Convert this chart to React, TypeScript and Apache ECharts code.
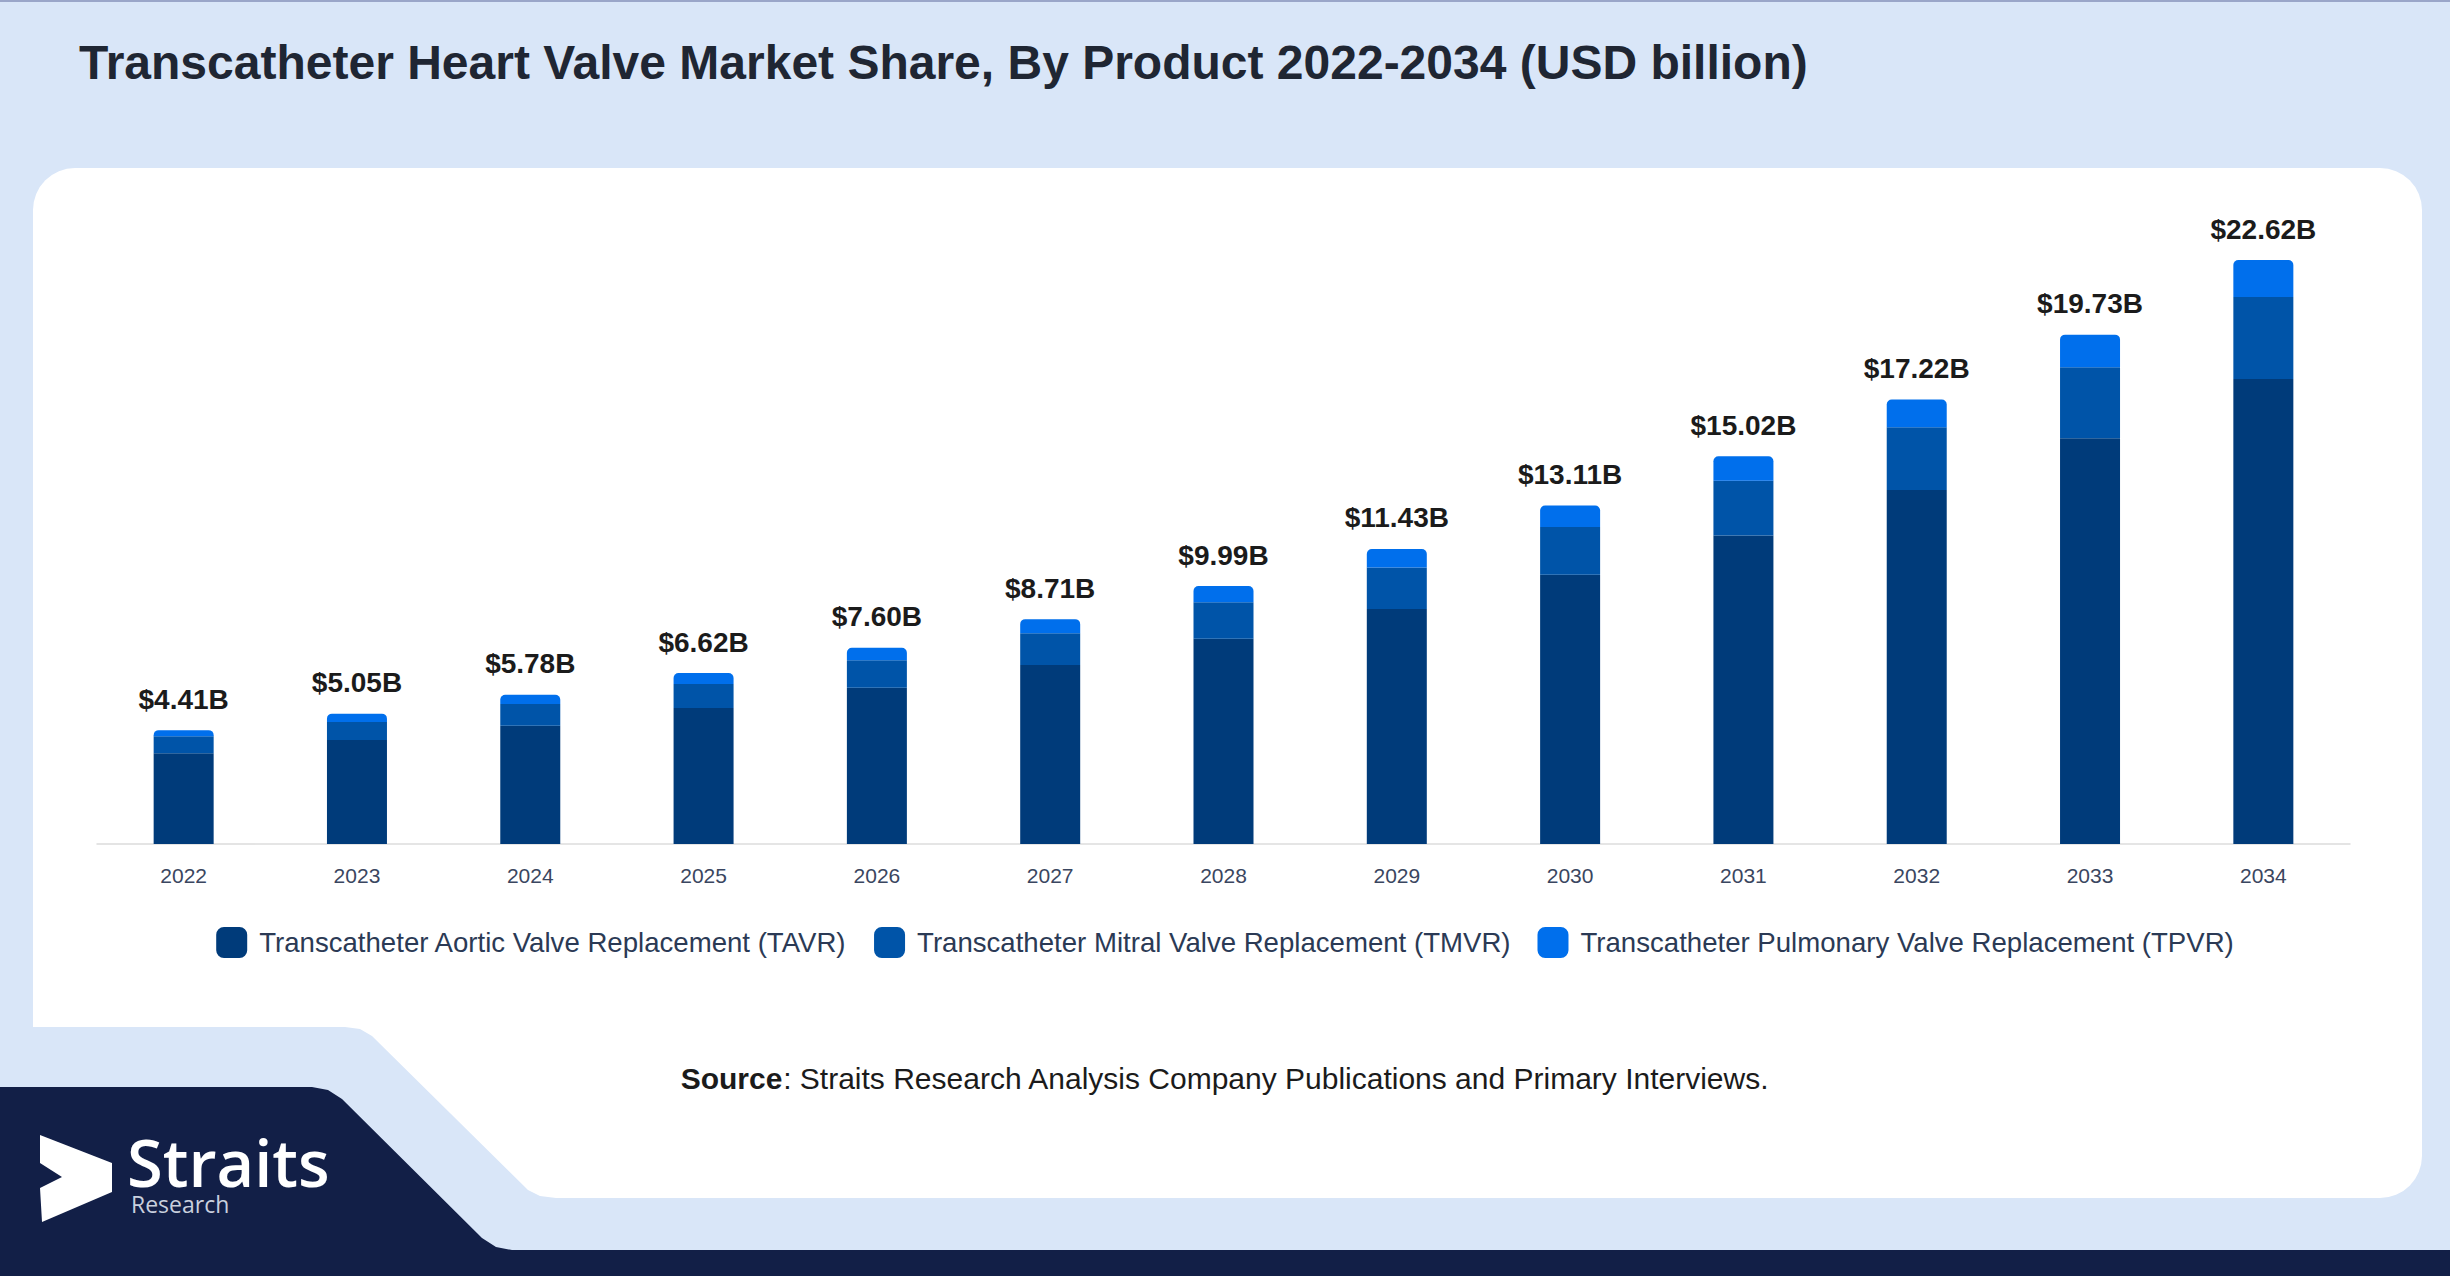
import React, { useEffect, useRef } from "react";
import * as echarts from "echarts";

const years = ["2022", "2023", "2024", "2025", "2026", "2027", "2028", "2029", "2030", "2031", "2032", "2033", "2034"];
const tavr = [3.52, 4.03, 4.58, 5.27, 6.05, 6.93, 7.95, 9.1, 10.43, 11.95, 13.71, 15.72, 18.01];
const tmvr = [0.65, 0.7, 0.84, 0.93, 1.07, 1.23, 1.41, 1.61, 1.85, 2.12, 2.43, 2.75, 3.18];
const tpvr = [0.24, 0.32, 0.36, 0.42, 0.48, 0.55, 0.63, 0.72, 0.83, 0.95, 1.08, 1.26, 1.43];
const totals = ["$4.41B", "$5.05B", "$5.78B", "$6.62B", "$7.60B", "$8.71B", "$9.99B", "$11.43B", "$13.11B", "$15.02B", "$17.22B", "$19.73B", "$22.62B"];
const seriesNames = [
  "Transcatheter Aortic Valve Replacement (TAVR)",
  "Transcatheter Mitral Valve Replacement (TMVR)",
  "Transcatheter Pulmonary Valve Replacement (TPVR)",
];
const colors = ["#003b7a", "#0054a8", "#006fec"];

const FONT = "'Liberation Sans', Arial, sans-serif";

export default function App() {
  const ref = useRef<HTMLDivElement>(null);
  useEffect(() => {
    document.body.style.margin = "0";
    const chart = echarts.init(ref.current!, null, { renderer: "svg" });
    const option: any = {
      animation: false,
      backgroundColor: "#d9e6f8",
      textStyle: { fontFamily: FONT },
      grid: { left: 97, right: 100, top: 198.6, bottom: 432, containLabel: false },
      xAxis: {
        type: "category",
        data: years,
        axisTick: { show: false },
        axisLine: { lineStyle: { color: "#dcdcdc", width: 1.5 } },
        axisLabel: { fontSize: 21, color: "#3a4660", margin: 21, fontFamily: FONT },
      },
      yAxis: { type: "value", min: 0, max: 25, show: false, splitLine: { show: false } },
      legend: {
        top: 922,
        left: "center",
        itemWidth: 31,
        itemHeight: 31,
        itemGap: 27,
        icon: "roundRect",
        data: seriesNames,
        textStyle: { fontSize: 27.6, color: "#2b3a55", fontFamily: FONT, padding: [0, 0, 0, 7] },
      },
      series: [
        {
          name: seriesNames[0],
          type: "bar",
          stack: "t",
          data: tavr,
          barWidth: 60,
          itemStyle: { color: colors[0] },
        },
        {
          name: seriesNames[1],
          type: "bar",
          stack: "t",
          data: tmvr,
          barWidth: 60,
          itemStyle: { color: colors[1] },
        },
        {
          name: seriesNames[2],
          type: "bar",
          stack: "t",
          data: tpvr,
          barWidth: 60,
          itemStyle: { color: colors[2], borderRadius: [5, 5, 0, 0] },
          label: {
            show: true,
            position: "top",
            distance: 17,
            fontSize: 28,
            fontWeight: "bold",
            color: "#1b1b1b",
            fontFamily: FONT,
            formatter: (p: any) => totals[p.dataIndex],
          },
        },
      ],
      graphic: [
        { type: "line", z: -10, shape: { x1: 0, y1: 1, x2: 2450, y2: 1 }, style: { stroke: "#9aa6c9", lineWidth: 2 } },
        {
          type: "rect",
          z: -10,
          shape: { x: 33, y: 168, width: 2389, height: 1030, r: 42 },
          style: { fill: "#ffffff" },
        },
        {
          type: "polygon",
          z: -9,
          shape: {
            points: [
              [0, 1027], [345, 1027], [360, 1029], [372, 1036], [528, 1190], [540, 1196], [556, 1198], [620, 1198], [620, 1276], [0, 1276],
            ],
          },
          style: { fill: "#d9e6f8" },
        },
        {
          type: "polygon",
          z: -8,
          shape: {
            points: [
              [0, 1087], [312, 1087], [328, 1090], [342, 1099], [482, 1238], [496, 1247], [512, 1250], [2450, 1250], [2450, 1276], [0, 1276],
            ],
          },
          style: { fill: "#121f47" },
        },
        {
          type: "polygon",
          z: -7,
          shape: {
            points: [[40, 1135], [112, 1163], [112, 1192], [42, 1222], [40, 1188], [62, 1177], [40, 1163]],
          },
          style: { fill: "#ffffff" },
        },
        {
          type: "text",
          z: -7,
          x: 127,
          y: 1137,
          style: {
            text: "{s|Straits}\n{r|Research}",
            align: "left",
            verticalAlign: "top",
            rich: {
              s: { fontFamily: "'Open Sans', sans-serif", fontWeight: 600, fontSize: 65, lineHeight: 50, fill: "#ffffff" },
              r: { fontFamily: "'Open Sans', sans-serif", fontWeight: 400, fontSize: 23, lineHeight: 34, fill: "#c9d0de", padding: [0, 0, 0, 4] },
            },
          },
        },
        {
          type: "text",
          x: 79,
          y: 62,
          style: {
            text: "Transcatheter Heart Valve Market Share, By Product 2022-2034 (USD billion)",
            fill: "#1f2633",
            font: `bold 48px ${FONT}`,
            verticalAlign: "middle",
          },
        },
        {
          type: "text",
          x: 1225,
          y: 1078,
          style: {
            text: "{b|Source}: Straits Research Analysis Company Publications and Primary Interviews.",
            fill: "#1b1b1b",
            fontSize: 30,
            fontFamily: FONT,
            align: "center",
            verticalAlign: "middle",
            rich: { b: { fontWeight: "bold", fontSize: 30, fontFamily: FONT, fill: "#1b1b1b" } },
          },
        },
      ],
    };
    chart.setOption(option);
    return () => chart.dispose();
  }, []);
  return <div ref={ref} style={{ width: 2450, height: 1276 }} />;
}
